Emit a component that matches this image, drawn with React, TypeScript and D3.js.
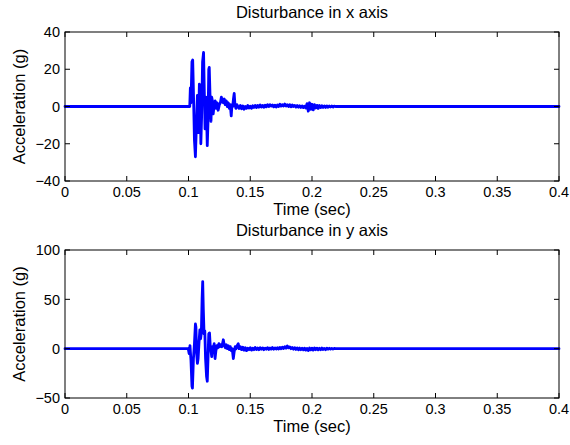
import React from "react";
import * as d3 from "d3";

const X_TICKS = [0, 0.05, 0.1, 0.15, 0.2, 0.25, 0.3, 0.35, 0.4];
const X_TICK_LABELS = ["0", "0.05", "0.1", "0.15", "0.2", "0.25", "0.3", "0.35", "0.4"];
const Y_TICKS_X = [-40, -20, 0, 20, 40];
const Y_TICKS_Y = [-50, 0, 50, 100];

// Disturbance in x axis
const TIME_X = [
  0, 0.101, 0.1015, 0.102, 0.1028, 0.1034, 0.104, 0.1048, 0.1056, 0.1064, 0.1072, 0.108, 0.1088, 0.1094,
  0.11, 0.1106, 0.1114, 0.1122, 0.1128, 0.1134, 0.114, 0.1146, 0.1152, 0.1158, 0.1164, 0.1168, 0.1176,
  0.1182, 0.1188, 0.1194, 0.12, 0.1208, 0.1216, 0.1224, 0.1232, 0.124, 0.125, 0.1258, 0.1266, 0.1274,
  0.1282, 0.129, 0.1298, 0.1306, 0.1314, 0.1322, 0.133, 0.1338, 0.1346, 0.1352, 0.1358, 0.1364, 0.137,
  0.1376, 0.1384, 0.1392, 0.14,
  0.141, 0.142, 0.143, 0.144, 0.145, 0.146, 0.147, 0.148, 0.149, 0.15, 0.151, 0.152, 0.153, 0.154, 0.155,
  0.156, 0.157, 0.158, 0.159, 0.16, 0.161, 0.162, 0.163, 0.164, 0.165, 0.166, 0.167, 0.168, 0.169, 0.17,
  0.171, 0.172, 0.173, 0.174, 0.175, 0.176, 0.177, 0.178, 0.179, 0.18, 0.181, 0.182, 0.183, 0.184, 0.185,
  0.186, 0.187, 0.188, 0.189, 0.19, 0.191, 0.192, 0.193, 0.194, 0.195, 0.196, 0.197, 0.198, 0.199, 0.2,
  0.201, 0.202, 0.203, 0.204, 0.205, 0.206, 0.207, 0.208, 0.209, 0.21, 0.211, 0.212, 0.213, 0.214, 0.215,
  0.216, 0.217, 0.218, 0.219, 0.4,
];
const ACC_X = [
  0, 0, 10, 2, 24, 25, 8, -18, -27, -10, 6, -14, 12, 10,
  -20, -6, 24, 29, 8, -12, 5, -4, -21, -8, 20, 21, 2,
  -8, 5, 3, -4, 1, 3, -1, 2, -2, 1, 2, 5, 3,
  2, 4, 1, 3, 0, 2, -1, 1, -5, 1, 0, 4, 7,
  1, -1, 1, 0,
  -1, 0.5, -1.2, 0.3, -1.5, 0, -1, 0.5, -0.8, 0.2, -1, 0.4, -0.5, 0.6, -0.6,
  0.5, -0.4, 0.8, -0.3, 0.6, -0.4, 0.7, -0.2, 0.9, 0, 1, 0.2, 0.8, -0.2, 0.7,
  -0.3, 0.8, 0, 1.2, 0.2, 1, 0.3, 1.3, 0.2, 0.9, 0, 1, -0.2, 0.8, 0,
  0.6, -0.3, 0.5, -0.4, 0.4, -0.5, 0.3, -0.6, 0.2, -0.8, 1.5, -2.5, 2, -1.5, 1.2,
  -1.8, 1, -0.8, 0.6, -1, 0.5, -0.6, 0.4, -0.5, 0.3, -0.5, 0.3, -0.4, 0.3, -0.3,
  0.3, -0.3, 0.2, 0, 0,
];

// Disturbance in y axis
const TIME_Y = [
  0, 0.0998, 0.1005, 0.1012, 0.102, 0.1028, 0.1032, 0.104, 0.1048, 0.1056, 0.106, 0.1066, 0.1072, 0.1078,
  0.1086, 0.1092, 0.1098, 0.1104, 0.111, 0.1115, 0.112, 0.1126, 0.1132, 0.1138, 0.1146, 0.1152, 0.1158,
  0.1164, 0.117, 0.1176, 0.1182, 0.1188, 0.1194, 0.12, 0.1208, 0.1215, 0.1222, 0.123, 0.1238, 0.1246,
  0.1254, 0.1262, 0.127, 0.1282, 0.129, 0.1298, 0.1306, 0.1314, 0.1322, 0.133, 0.1338, 0.1346, 0.1354,
  0.1363, 0.137, 0.1378, 0.1386, 0.1394, 0.1403, 0.141,
  0.142, 0.143, 0.144, 0.145, 0.146, 0.147, 0.148, 0.149, 0.15, 0.151, 0.152, 0.153, 0.154, 0.155,
  0.156, 0.157, 0.158, 0.159, 0.16, 0.161, 0.162, 0.163, 0.164, 0.165, 0.166, 0.167, 0.168, 0.169, 0.17,
  0.171, 0.172, 0.173, 0.174, 0.175, 0.176, 0.177, 0.178, 0.179, 0.18, 0.181, 0.182, 0.183, 0.184, 0.185,
  0.186, 0.187, 0.188, 0.189, 0.19, 0.191, 0.192, 0.193, 0.194, 0.195, 0.196, 0.197, 0.198, 0.199, 0.2,
  0.201, 0.202, 0.203, 0.204, 0.205, 0.206, 0.207, 0.208, 0.209, 0.21, 0.211, 0.212, 0.213, 0.214, 0.215,
  0.216, 0.217, 0.218, 0.219, 0.4,
];
const ACC_Y = [
  0, 0, -5, 3, -12, -38, -40, -10, 5, 25, 22, -5, -15, -10,
  8, 19, 10, 16, 50, 68, 40, 15, 18, -10, -28, -33, -10,
  15, 16, 3, -2, -8, 2, 0, 5, -10, -2, 3, 1, 5,
  2, 4, 2, 9, 3, 1, 4, 0, 3, -1, 2, -2, 0,
  -10, -3, 2, 0, 3, 5, 0,
  2, -1, 1.5, -1.5, 1, -2, 0.5, -1, 1, -1.5, 0.5, -1, 1.2, -0.8,
  0.6, -1, 1, -0.6, 0.8, -1, 0.5, -0.5, 1, -0.8, 0.6, -0.4, 1.2, -0.5, 0.8,
  -0.3, 1, -0.4, 1.3, 0, 1.5, 0.2, 2, 0.5, 2.7, 0.8, 1.8, 0, 1.2, -0.5,
  1, -0.8, 0.8, -1.2, 0.6, -1, 0.4, -1.2, 0.5, -1.5, 0.3, -2, 0.6, -1.2, 0.5,
  -1.5, 0.8, -1, 0.5, -1.2, 0.4, -1, 0.6, -0.8, 0.3, -1, 0.5, -0.6, 0.4, -0.5,
  0.3, -0.4, 0.2, 0, 0,
];

const FONT = "'Liberation Sans', Arial, Helvetica, sans-serif";
const W = 570;
const H = 445;
const LEFT = 65;
const RIGHT = 559;
const TICK = 5;

type PanelProps = {
  title: string;
  top: number;
  bottom: number;
  yDomain: [number, number];
  yTicks: number[];
  times: number[];
  values: number[];
};

function Panel({ title, top, bottom, yDomain, yTicks, times, values }: PanelProps) {
  const x = d3.scaleLinear().domain([0, 0.4]).range([LEFT, RIGHT]);
  const y = d3.scaleLinear().domain(yDomain).range([bottom, top]);
  const pts: [number, number][] = times.map((t, i) => [t, values[i]]);
  const line = d3
    .line<[number, number]>()
    .x((d) => x(d[0]))
    .y((d) => y(d[1]));
  const midY = (top + bottom) / 2;
  const midX = (LEFT + RIGHT) / 2;
  return (
    <g>
      <text x={midX} y={top - 14} textAnchor="middle" fontSize={16.5} fontFamily={FONT} fill="#000">
        {title}
      </text>
      <path
        d={line(pts) || ""}
        fill="none"
        stroke="#0000ff"
        strokeWidth={2.8}
        strokeLinejoin="round"
        strokeLinecap="round"
      />
      <rect x={LEFT} y={top} width={RIGHT - LEFT} height={bottom - top} fill="none" stroke="#000" strokeWidth={1} />
      {X_TICKS.map((t, i) => (
        <g key={"xt" + i}>
          <line x1={x(t)} x2={x(t)} y1={bottom} y2={bottom - TICK} stroke="#000" />
          <line x1={x(t)} x2={x(t)} y1={top} y2={top + TICK} stroke="#000" />
          <text x={x(t)} y={bottom + 15.5} textAnchor="middle" fontSize={14.5} fontFamily={FONT} fill="#000">
            {X_TICK_LABELS[i]}
          </text>
        </g>
      ))}
      {yTicks.map((v, i) => (
        <g key={"yt" + i}>
          <line x1={LEFT} x2={LEFT + TICK} y1={y(v)} y2={y(v)} stroke="#000" />
          <line x1={RIGHT} x2={RIGHT - TICK} y1={y(v)} y2={y(v)} stroke="#000" />
          <text
            x={LEFT - 5}
            y={y(v)}
            dy="0.36em"
            textAnchor="end"
            fontSize={14.5}
            fontFamily={FONT}
            fill="#000"
          >
            {v < 0 ? "\u2212" + Math.abs(v) : String(v)}
          </text>
        </g>
      ))}
      <text x={midX} y={bottom + 34} textAnchor="middle" fontSize={16.5} fontFamily={FONT} fill="#000">
        Time (sec)
      </text>
      <text
        transform={`translate(24.5,${midY}) rotate(-90)`}
        textAnchor="middle"
        fontSize={16.5}
        fontFamily={FONT}
        fill="#000"
      >
        Acceleration (g)
      </text>
    </g>
  );
}

export default function App() {
  return (
    <svg
      width={W}
      height={H}
      style={{ position: "fixed", left: 0, top: 0, background: "#fff" }}
    >
      <rect x={0} y={0} width={W} height={H} fill="#fff" />
      <Panel
        title="Disturbance in x axis"
        top={32}
        bottom={181}
        yDomain={[-40, 40]}
        yTicks={Y_TICKS_X}
        times={TIME_X}
        values={ACC_X}
      />
      <Panel
        title="Disturbance in y axis"
        top={250}
        bottom={398}
        yDomain={[-50, 100]}
        yTicks={Y_TICKS_Y}
        times={TIME_Y}
        values={ACC_Y}
      />
    </svg>
  );
}
